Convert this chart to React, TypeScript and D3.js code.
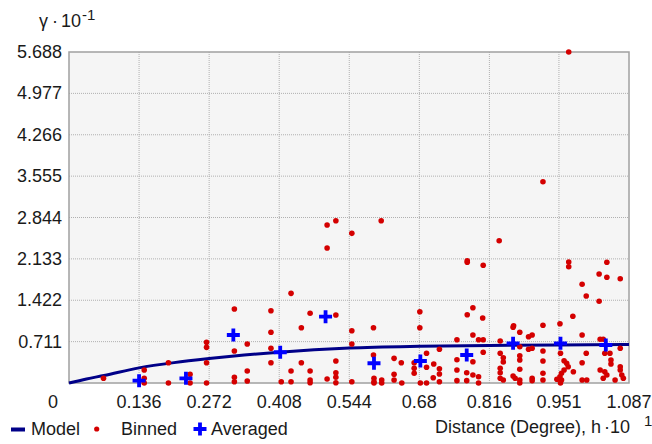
import React from "react";
import * as d3 from "d3";

// axis ticks (labels as printed on the chart)
const xTicks = [0, 0.136, 0.272, 0.408, 0.544, 0.68, 0.816, 0.951, 1.087];
const xTickLabels = ["0", "0.136", "0.272", "0.408", "0.544", "0.68", "0.816", "0.951", "1.087"];
const yTicks = [0.711, 1.422, 2.133, 2.844, 3.555, 4.266, 4.977, 5.688];
const yTickLabels = ["0.711", "1.422", "2.133", "2.844", "3.555", "4.266", "4.977", "5.688"];

// fitted variogram model
const modelPoints: [number, number][] = [
  [0, 0], [0.034, 0.07], [0.068, 0.13], [0.136, 0.26], [0.204, 0.35], [0.272, 0.42],
  [0.34, 0.48], [0.408, 0.53], [0.544, 0.6], [0.68, 0.63], [0.816, 0.645],
  [0.951, 0.655], [1.087, 0.66],
];

// averaged (lag-mean) semivariance
const averaged: [number, number][] = [
  [0.136, 0.04], [0.227, 0.08], [0.319, 0.825], [0.41, 0.528], [0.498, 1.139],
  [0.592, 0.339], [0.682, 0.378], [0.772, 0.481], [0.862, 0.682], [0.954, 0.682],
  [1.042, 0.653],
];

// binned semivariance cloud
const binned: [number, number][] = [
  [0.067, 0.081], [0.146, 0.223], [0.146, 0.081], [0.146, 0], [0.193, 0.349], [0.193, 0],
  [0.235, 0.15], [0.235, 0], [0.267, 0.699], [0.267, 0.613], [0.267, 0.349], [0.267, 0],
  [0.431, 1.541], [0.321, 1.272], [0.392, 1.242], [0.468, 1.198], [0.518, 1.168],
  [0.451, 0.95], [0.392, 0.871], [0.549, 0.899], [0.346, 0.67], [0.321, 0.55],
  [0.392, 0.596], [0.549, 0.67], [0.392, 0.349], [0.451, 0.349], [0.518, 0.378],
  [0.346, 0.206], [0.431, 0.206], [0.468, 0.206], [0.518, 0.177], [0.321, 0.098],
  [0.321, 0.022], [0.346, 0.034], [0.412, 0.022], [0.431, 0.022], [0.468, 0.052],
  [0.468, 0.005], [0.501, 0.069], [0.518, 0.098], [0.518, 0.005], [0.549, 0.022],
  [0.501, 2.715], [0.518, 2.789], [0.549, 2.572], [0.606, 2.789], [0.501, 2.32],
  [0.591, 0.95], [0.681, 0.95], [0.681, 1.225], [0.591, 0.481], [0.631, 0.424],
  [0.645, 0.349], [0.67, 0.349], [0.67, 0.253], [0.67, 0.167], [0.773, 1.174],
  [0.784, 1.294], [0.803, 1.117], [0.784, 0.825], [0.753, 0.744], [0.795, 0.744],
  [0.804, 0.744], [0.694, 0.51], [0.694, 0.27], [0.708, 0.326], [0.719, 0.579],
  [0.719, 0.246], [0.719, 0.155], [0.719, 0.022], [0.707, 0.091], [0.694, 0],
  [0.682, 0], [0.753, 0.4], [0.753, 0.223], [0.753, 0.04], [0.772, 0.177],
  [0.772, 0.04], [0.784, 0.366], [0.784, 0.137], [0.795, 0.108], [0.795, 0],
  [0.804, 0.528], [0.631, 0.15], [0.631, 0.052], [0.646, 0], [0.592, 0.081],
  [0.592, 0.022], [0.592, 0], [0.607, 0.052], [0.607, 0], [0.835, 2.445],
  [0.773, 2.102], [0.773, 2.074], [0.804, 2.023], [0.97, 2.079], [0.97, 1.998],
  [1.044, 2.074], [1.029, 1.873], [1.044, 1.816], [1.07, 1.792], [0.996, 1.696],
  [1.004, 1.495], [1.029, 1.404], [0.978, 1.146], [0.863, 0.985], [0.92, 0.992],
  [0.953, 1.019], [0.97, 5.688], [0.92, 3.459], [0.862, 0.957], [0.875, 0.871],
  [0.892, 0.796], [0.899, 0.825], [0.837, 0.722], [0.996, 0.825], [1.031, 0.751],
  [1.037, 0.751], [0.875, 0.624], [0.892, 0.579], [0.899, 0.596], [0.837, 0.51],
  [0.843, 0.435], [0.843, 0.361], [0.875, 0.469], [0.875, 0.395], [0.92, 0.55],
  [0.92, 0.378], [0.954, 0.51], [0.961, 0.383], [0.966, 0.339], [0.969, 0.28],
  [0.961, 0.223], [0.956, 0.167], [0.953, 0.108], [0.979, 0.194], [1.004, 0.51],
  [0.996, 0.349], [1.04, 0.51], [1.05, 0.51], [1.052, 0.395], [1.052, 0.326],
  [1.07, 0.596], [1.07, 0.28], [1.031, 0.223], [1.04, 0.194], [1.044, 0.137],
  [1.037, 0.081], [0.837, 0.253], [0.837, 0.177], [0.875, 0.235], [0.862, 0.12],
  [0.866, 0.081], [0.875, 0.052], [0.875, 0], [0.837, 0.081], [0.843, 0.052],
  [0.899, 0.081], [0.899, 0.04], [0.92, 0.167], [0.92, 0.052], [0.954, 0],
  [0.947, 0.064], [0.956, 0.052], [0.996, 0.052], [1.005, 0.052], [1.073, 0.137],
  [1.076, 0.081], [1.07, 0.223], [1.06, 0.052],
];

const W = 652;
const H = 444;
const plot = { left: 69, right: 629, top: 52, bottom: 383 };
const font = "'Liberation Sans', Arial, sans-serif";
const textColor = "#1a1a1a";
const red = "#d40000";
const blue = "#0000ff";
const navy = "#000088";

const Plus = ({ x, y, s = 6.5 }: { x: number; y: number; s?: number }) => (
  <path d={`M${x - s},${y}H${x + s}M${x},${y - s}V${y + s}`} stroke={blue} strokeWidth={3.8} />
);

export default function App() {
  const x = d3.scaleLinear().domain([0, 1.087]).range([plot.left, plot.right]);
  const y = d3.scaleLinear().domain([0, 5.688]).range([plot.bottom, plot.top]);

  const line = d3
    .line<[number, number]>()
    .x(d => x(d[0]))
    .y(d => y(d[1]))
    .curve(d3.curveMonotoneX);

  return (
    <svg
      width={W}
      height={H}
      style={{ position: "absolute", left: 0, top: 0, background: "#fff" }}
      fontFamily={font}
      fontSize={18}
      fill={textColor}
    >
      {/* plot background */}
      <rect x={plot.left} y={plot.top} width={plot.right - plot.left} height={plot.bottom - plot.top} fill="#f5f5f5" />

      {/* dotted grid */}
      <g stroke="#b0b0b0" strokeWidth={1} strokeDasharray="1,1">
        {xTicks.slice(1, -1).map(t => (
          <line key={"gx" + t} x1={x(t)} x2={x(t)} y1={plot.top} y2={plot.bottom} />
        ))}
        {yTicks.slice(0, -1).map(t => (
          <line key={"gy" + t} x1={plot.left} x2={plot.right} y1={y(t)} y2={y(t)} />
        ))}
      </g>

      <rect
        x={plot.left}
        y={plot.top}
        width={plot.right - plot.left}
        height={plot.bottom - plot.top}
        fill="none"
        stroke="#a0a0a0"
        strokeWidth={1.5}
      />

      {/* y tick labels */}
      {yTicks.map((t, i) => (
        <text key={"yl" + t} x={62} y={y(t)} textAnchor="end" dominantBaseline="central">
          {yTickLabels[i]}
        </text>
      ))}

      {/* x tick labels; the origin label sits left of the corner */}
      {xTicks.map((t, i) => (
        <text key={"xl" + t} x={i === 0 ? x(t) - 16 : x(t)} y={408} textAnchor="middle">
          {xTickLabels[i]}
        </text>
      ))}

      {/* model curve */}
      <path d={line(modelPoints) || ""} fill="none" stroke={navy} strokeWidth={3} />

      {/* binned points */}
      {binned.map((d, i) => (
        <circle key={"b" + i} cx={x(d[0])} cy={y(d[1])} r={2.8} fill={red} />
      ))}

      {/* averaged */}
      {averaged.map((d, i) => (
        <Plus key={"a" + i} x={x(d[0])} y={y(d[1])} />
      ))}

      {/* y axis title */}
      <text y={27}>
        <tspan x={39}>γ</tspan>
        <tspan x={52}>·</tspan>
        <tspan x={61}>10</tspan>
        <tspan x={82} y={20} fontSize={15}>-1</tspan>
      </text>

      {/* legend */}
      <line x1={11} x2={25} y1={429.5} y2={429.5} stroke={navy} strokeWidth={4} />
      <text x={31} y={435}>Model</text>
      <circle cx={96.7} cy={429} r={2.6} fill={red} />
      <text x={121} y={435}>Binned</text>
      <Plus x={200} y={429} />
      <text x={211} y={435}>Averaged</text>

      {/* x axis title */}
      <text y={433}>
        <tspan x={435}>Distance (Degree), h</tspan>
        <tspan x={604}>·</tspan>
        <tspan x={610}>10</tspan>
        <tspan x={644} y={426} fontSize={15}>1</tspan>
      </text>
    </svg>
  );
}
